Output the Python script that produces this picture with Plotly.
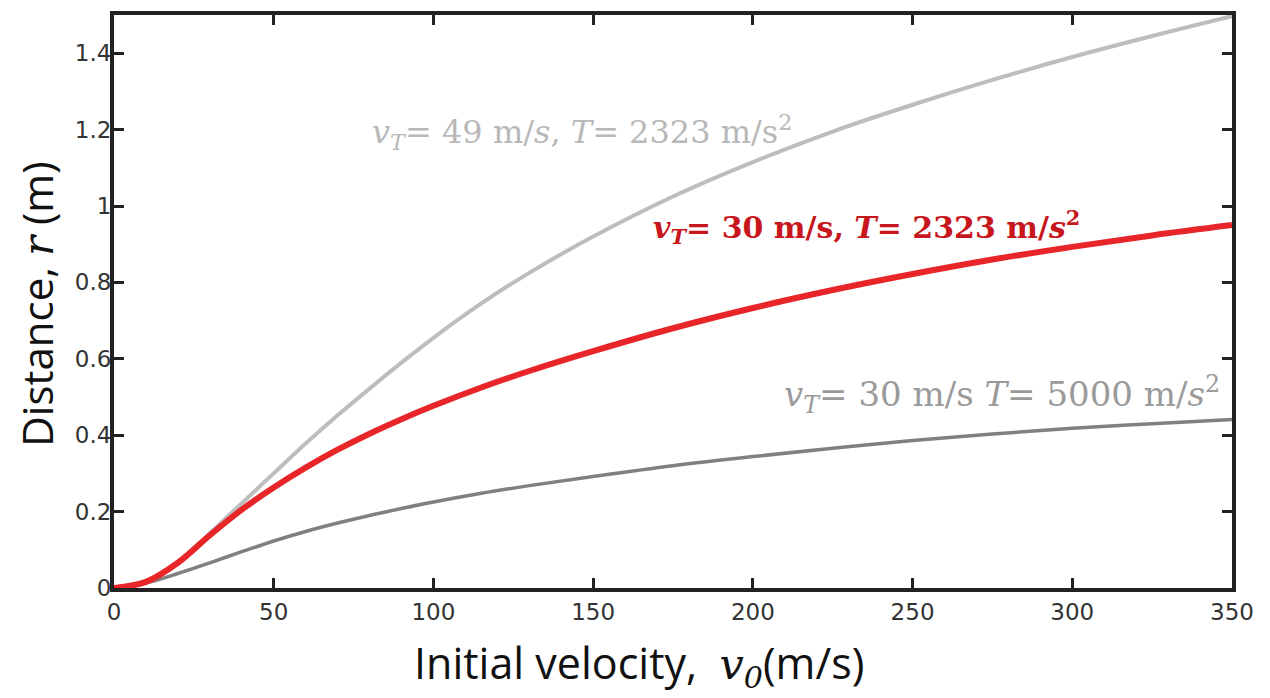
import plotly.graph_objects as go

# Initial velocity v0 (m/s) and distance r (m)
x_red = [0, 10, 20, 30, 40, 50, 60, 70, 80, 90, 100, 115, 130, 150, 175, 200, 225, 250, 275, 300, 325, 350]
y_red = [0, 0.016, 0.066, 0.138, 0.205, 0.263, 0.315, 0.362, 0.404, 0.442, 0.477, 0.525, 0.568, 0.62, 0.68,
         0.733, 0.78, 0.822, 0.86, 0.893, 0.923, 0.950]

x_light = [0, 10, 20, 30, 40, 50, 60, 70, 80, 90, 100, 115, 130, 150, 175, 200, 225, 250, 275, 300, 325, 350]
y_light = [0, 0.015, 0.066, 0.143, 0.222, 0.30, 0.378, 0.452, 0.522, 0.59, 0.655, 0.745, 0.825, 0.92, 1.025,
           1.115, 1.195, 1.265, 1.33, 1.39, 1.445, 1.497]

x_dark = [0, 10, 20, 30, 40, 50, 60, 70, 80, 90, 100, 115, 130, 150, 175, 200, 225, 250, 275, 300, 325, 350]
y_dark = [0, 0.013, 0.038, 0.066, 0.095, 0.123, 0.148, 0.17, 0.19, 0.208, 0.225, 0.248, 0.268, 0.292, 0.32,
          0.344, 0.366, 0.386, 0.403, 0.418, 0.43, 0.441]

x_ticks = [0, 50, 100, 150, 200, 250, 300, 350]
y_ticks = [0, 0.2, 0.4, 0.6, 0.8, 1.0, 1.2, 1.4]
y_tick_text = ["0", "0.2", "0.4", "0.6", "0.8", "1", "1.2", "1.4"]

labels = [
    "<i>v</i><sub><i>T</i></sub>= 49 m/<i>s</i>, <i>T</i>= 2323 m/s<sup>2</sup>",
    "<b><i>v</i><sub><i>T</i></sub>= 30 m/s, <i>T</i>= 2323 m/<i>s</i><sup>2</sup></b>",
    "<i>v</i><sub><i>T</i></sub>= 30 m/s <i>T</i>= 5000 m/<i>s</i><sup>2</sup>",
]
x_title = "Initial velocity,  <span style=\"font-family:'DejaVu Serif'\"><i>v</i><sub><i>0</i></sub></span>(m/s)"
y_title = "Distance, <span style=\"font-family:'DejaVu Serif'\"><i>r</i></span> (m)"

fig = go.Figure()
fig.add_trace(go.Scatter(x=x_light, y=y_light, mode="lines", line=dict(color="#bdbdbd", width=4, shape="spline"),
                         showlegend=False))
fig.add_trace(go.Scatter(x=x_dark, y=y_dark, mode="lines", line=dict(color="#808080", width=3.5, shape="spline"),
                         showlegend=False))
fig.add_trace(go.Scatter(x=x_red, y=y_red, mode="lines", line=dict(color="#e82528", width=6, shape="spline"),
                         showlegend=False))

serif = "DejaVu Serif"
fig.add_annotation(x=80.0, y=1.193, xref="x", yref="y", text=labels[0], showarrow=False, xanchor="left",
                   yanchor="middle", font=dict(family=serif, size=32, color="#b8b8b8"))
fig.add_annotation(x=168.0, y=0.944, xref="x", yref="y", text=labels[1], showarrow=False, xanchor="left",
                   yanchor="middle", font=dict(family=serif, size=30, color="#c8161d"))
fig.add_annotation(x=209.0, y=0.506, xref="x", yref="y", text=labels[2], showarrow=False, xanchor="left",
                   yanchor="middle", font=dict(family=serif, size=34, color="#9a9a9a"))

fig.add_annotation(x=0.47, y=-0.133, xref="paper", yref="paper", text=x_title, showarrow=False,
                   xanchor="center", yanchor="middle", font=dict(family="Open Sans", size=43, color="#111111"))
fig.add_annotation(x=-0.069, y=0.496, xref="paper", yref="paper", text=y_title, showarrow=False,
                   textangle=-90, xanchor="center", yanchor="middle",
                   font=dict(family="Open Sans", size=42, color="#111111"))

axis_common = dict(showline=True, linecolor="#222222", linewidth=4, mirror="ticks", ticks="inside",
                   ticklen=10, tickwidth=3, tickcolor="#222222", showgrid=False, zeroline=False,
                   tickfont=dict(family="DejaVu Sans", size=23, color="#333333"))

fig.update_xaxes(range=[0, 350], tickvals=x_ticks, ticktext=[str(v) for v in x_ticks], **axis_common)
fig.update_yaxes(range=[0, 1.5], tickvals=y_ticks, ticktext=y_tick_text, ticklabelstandoff=-6, **axis_common)

fig.update_layout(width=1270, height=698, margin=dict(l=106, r=46, t=3, b=118),
                  plot_bgcolor="white", paper_bgcolor="white")

fig.write_html("out.html")
